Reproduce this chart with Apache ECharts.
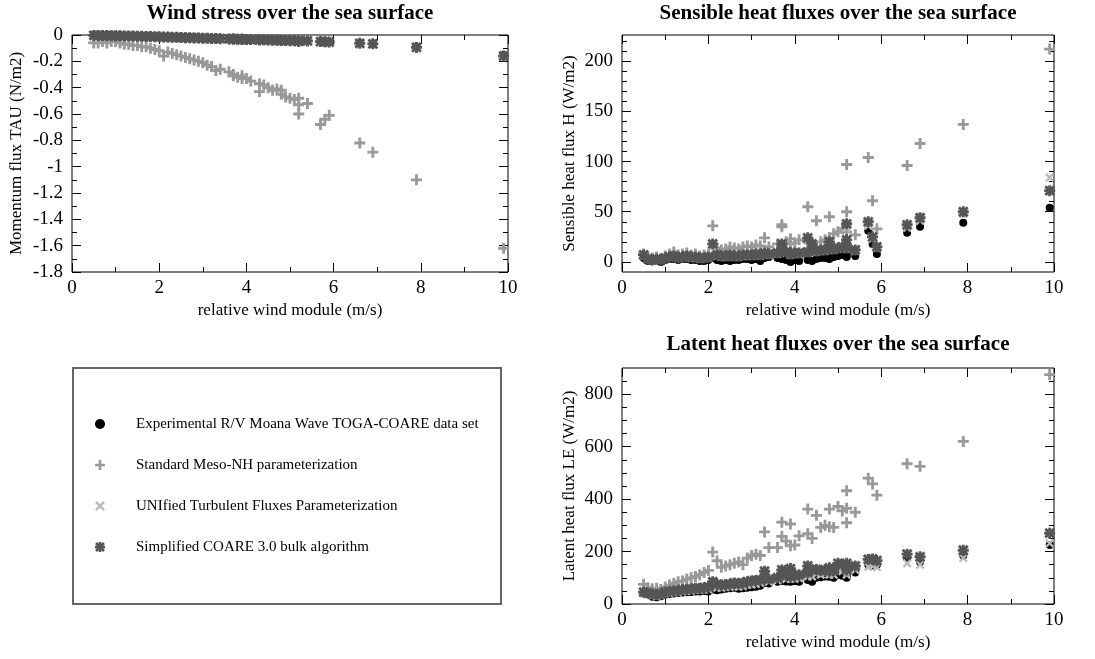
<!DOCTYPE html>
<html><head><meta charset="utf-8">
<script src="https://cdn.jsdelivr.net/npm/echarts@6/dist/echarts.min.js"></script>
<style>html,body{margin:0;padding:0;background:#fff}#c{width:1095px;height:659px}</style>
</head><body><div id="c"></div>
<script>
// ---- data ----
const wind = [0.5,0.6,0.7,0.8,0.9, 1.0,1.1,1.2,1.3,1.4, 1.5,1.6,1.7,1.8,1.9, 2.0,2.1,2.2,2.3,2.4, 2.5,2.6,2.7,2.8,2.9, 3.0,3.1,3.2,3.3,3.4, 3.6,3.7,3.7,3.8,3.9, 3.9,4.0,4.1,4.3,4.3, 4.4,4.5,4.6,4.7,4.8, 4.8,4.9,5.0,5.1,5.2, 5.2,5.2,5.4,5.7,5.8, 5.9,6.6,6.9,7.9,9.9];

const seriesNames = ["Experimental R/V Moana Wave TOGA-COARE data set","Standard Meso-NH parameterization","UNIfied Turbulent Fluxes Parameterization","Simplified COARE 3.0 bulk algorithm"];
const panelTitles = ["Wind stress over the sea surface","Sensible heat fluxes over the sea surface","Latent heat fluxes over the sea surface"];
const xName = "relative wind module (m/s)";
const yNames = ["Momentum flux TAU (N/m2)","Sensible heat flux H (W/m2)","Latent heat flux LE (W/m2)"];

const xTicks = [0,2,4,6,8,10];
const xMinor = [1,3,5,7,9];
const tauTicks = [0,-0.2,-0.4,-0.6,-0.8,-1,-1.2,-1.4,-1.6,-1.8];
const tauMinor = [-0.1,-0.3,-0.5,-0.7,-0.9,-1.1,-1.3,-1.5,-1.7];
const hTicks = [0,50,100,150,200];
const hMinor = [10,20,30,40,60,70,80,90,110,120,130,140,160,170,180,190,210,220];
const leTicks = [0,200,400,600,800];
const leMinor = [50,100,150,250,300,350,450,500,550,650,700,750,850];

const tauExp = [-0.002,-0.003,-0.003,-0.003,-0.004, -0.004,-0.005,-0.006,-0.007,-0.007, -0.008,-0.009,-0.010,-0.011,-0.012, -0.013,-0.015,-0.015,-0.016,-0.017, -0.018,-0.019,-0.020,-0.021,-0.022, -0.023,-0.024,-0.025,-0.026,-0.027, -0.029,-0.030,-0.030,-0.031,-0.032, -0.032,-0.033,-0.034,-0.035,-0.036, -0.036,-0.037,-0.038,-0.039,-0.040, -0.040,-0.041,-0.042,-0.043,-0.044, -0.045,-0.046,-0.044,-0.048,-0.050, -0.051,-0.060,-0.064,-0.090,-0.152];
const tauMeso = [-0.06,-0.06,-0.05,-0.06,-0.05, -0.05,-0.06,-0.07,-0.07,-0.08, -0.08,-0.09,-0.09,-0.10,-0.11, -0.12,-0.16,-0.13,-0.14,-0.15, -0.16,-0.17,-0.18,-0.19,-0.20, -0.21,-0.23,-0.24,-0.27,-0.26, -0.28,-0.31,-0.30,-0.32,-0.31, -0.33,-0.33,-0.35,-0.37,-0.43, -0.38,-0.40,-0.42,-0.41,-0.42, -0.45,-0.47,-0.48,-0.49,-0.48, -0.53,-0.60,-0.52,-0.68,-0.64, -0.61,-0.82,-0.89,-1.10,-1.62];
const tauUnif = [-0.003,-0.003,-0.003,-0.004,-0.004, -0.005,-0.005,-0.006,-0.007,-0.008, -0.008,-0.009,-0.010,-0.011,-0.012, -0.013,-0.015,-0.016,-0.016,-0.017, -0.018,-0.019,-0.020,-0.021,-0.022, -0.023,-0.024,-0.025,-0.027,-0.027, -0.029,-0.030,-0.031,-0.031,-0.032, -0.033,-0.033,-0.034,-0.036,-0.036, -0.037,-0.037,-0.038,-0.039,-0.040, -0.041,-0.041,-0.042,-0.043,-0.044, -0.045,-0.046,-0.044,-0.049,-0.051, -0.052,-0.062,-0.066,-0.092,-0.158];
const tauCoare = [-0.003,-0.003,-0.004,-0.004,-0.005, -0.005,-0.006,-0.007,-0.008,-0.008, -0.009,-0.010,-0.011,-0.012,-0.013, -0.014,-0.016,-0.016,-0.017,-0.018, -0.019,-0.020,-0.021,-0.022,-0.023, -0.024,-0.025,-0.026,-0.027,-0.028, -0.030,-0.031,-0.031,-0.032,-0.033, -0.033,-0.034,-0.035,-0.036,-0.037, -0.037,-0.038,-0.039,-0.040,-0.041, -0.041,-0.042,-0.043,-0.044,-0.045, -0.046,-0.047,-0.045,-0.050,-0.052, -0.053,-0.063,-0.067,-0.094,-0.160];

const hExp = [4,1,1,2,0, 2,3,3,2,3, 3,2,2,1,1, 2,4,2,1,2, 1,2,2,3,3, 2,3,1,4,5, 4,3,4,2,0, 1,2,1,3,2, 1,3,4,4,3, 4,5,6,7,6, 8,5,6,31,18, 8,29,35,39,54];
const hMeso = [8,5,4,5,3, 6,8,10,7,8, 9,7,8,6,7, 8,36,14,12,13, 15,14,13,15,16, 15,17,16,24,15, 18,37,35,20,23, 18,19,22,55,20, 19,41,20,22,45, 24,28,30,33,97, 50,30,27,104,61, 33,96,118,137,212];
const hUnif = [6,3,2,3,2, 4,5,5,4,5, 5,4,4,3,4, 4,15,6,5,5, 6,5,5,6,6, 6,7,6,8,7, 8,16,11,9,8, 7,8,8,21,9, 16,10,11,11,18, 12,12,13,14,34, 20,13,11,36,23, 14,34,41,48,84];
const hCoare = [7,3,2,3,2, 4,5,6,4,5, 6,5,5,4,4, 5,18,7,6,6, 7,6,6,7,7, 7,8,7,9,8, 9,18,12,10,9, 8,9,9,24,10, 18,11,12,12,20, 13,13,14,15,38, 22,14,12,40,25, 15,37,44,50,71];

const leExp = [42,38,28,26,30, 35,38,40,42,44, 45,46,48,48,50, 48,55,52,55,58, 60,62,58,60,62, 64,66,70,80,78, 85,92,88,86,85, 90,88,85,100,92, 85,100,102,105,110, 104,100,112,108,105, 115,100,120,150,148, 150,175,160,185,225];
const leMeso = [75,62,58,60,55, 65,72,78,85,88, 95,100,105,112,120, 128,198,165,140,145, 150,155,160,150,175, 185,190,185,275,215, 215,312,258,240,305, 222,225,260,362,268, 250,338,292,300,362, 295,292,372,355,432, 365,310,350,480,458, 415,535,525,620,875];
const leUnif = [44,40,32,30,33, 40,42,44,46,48, 50,51,53,53,55, 55,68,62,62,65, 66,68,66,68,72, 74,76,80,100,85, 90,108,100,95,108, 96,96,98,120,105, 105,115,112,115,120, 112,112,130,125,128, 125,112,130,142,145, 140,155,150,175,232];
const leCoare = [45,42,38,36,38, 45,48,50,52,55, 56,58,60,60,62, 65,85,75,72,74, 76,80,78,80,85, 88,90,92,125,95, 100,130,115,110,135, 105,108,112,145,120, 130,132,128,130,138, 125,128,155,150,155, 140,130,145,170,172, 165,190,180,205,270];

// ---- styling ----
const SERIF = "'Liberation Serif','DejaVu Serif',serif";
const PLUS = 'path://M3.7,0h2.6v3.7h3.7v2.6h-3.7v3.7h-2.6v-3.7h-3.7v-2.6h3.7z';
const CROSS = 'path://M1.92,0.08L9.92,8.08L8.08,9.92L0.08,1.92Z M8.08,0.08L9.92,1.92L1.92,9.92L0.08,8.08Z';
const STAR = 'path://M3.7,0h2.6v3.7h3.7v2.6h-3.7v3.7h-2.6v-3.7h-3.7v-2.6h3.7z M1.92,0.08L9.92,8.08L8.08,9.92L0.08,1.92Z M8.08,0.08L9.92,1.92L1.92,9.92L0.08,8.08Z';
const markers = [
  {symbol:'circle', size:8, color:'#000000'},
  {symbol:PLUS, size:11, color:'#999999'},
  {symbol:CROSS, size:9, color:'#bbbbbb'},
  {symbol:STAR, size:11, color:'#555555'}
];

const grids = [
  {left:72, top:35, width:436, height:237},
  {left:622, top:35, width:432, height:237},
  {left:622, top:368, width:432, height:236}
];
grids.forEach(g => { g.show = true; g.borderColor = '#000'; g.borderWidth = 1; g.backgroundColor = 'transparent'; g.containLabel = false; });

function axisSet(kind, gi, min, max, majors, minors, fmt, name, nameGap) {
  const pos = kind === 'x' ? ['bottom','top'] : ['left','right'];
  const base = () => ({type:'value', gridIndex:gi, min:min, max:max, axisLine:{show:false, onZero:false}, splitLine:{show:false}, minorTick:{show:false}});
  const tick = (vals, len) => ({show:true, inside:true, customValues:vals, length:len, lineStyle:{color:'#000', width:1}});
  const main = Object.assign(base(), {
    position: pos[0],
    name: name, nameLocation:'middle', nameGap: nameGap,
    nameTextStyle: {fontFamily:SERIF, fontSize:17, color:'#000'},
    axisLabel: {show:true, customValues:majors, formatter:fmt, fontFamily:SERIF, fontSize:19, color:'#000', margin: kind==='x'?7:9},
    axisTick: tick(majors, 9)
  });
  const a2 = Object.assign(base(), {position:pos[0], axisLabel:{show:false}, axisTick:tick(minors, 5)});
  const a3 = Object.assign(base(), {position:pos[1], axisLabel:{show:false}, axisTick:tick(majors, 9)});
  const a4 = Object.assign(base(), {position:pos[1], axisLabel:{show:false}, axisTick:tick(minors, 5)});
  return [main, a2, a3, a4];
}
const fmtNum = v => String(Math.round(v*10)/10);

const xAxes = [].concat(
  axisSet('x', 0, 0, 10, xTicks, xMinor, fmtNum, xName, 30),
  axisSet('x', 1, 0, 10, xTicks, xMinor, fmtNum, xName, 30),
  axisSet('x', 2, 0, 10, xTicks, xMinor, fmtNum, xName, 30)
);
const yAxes = [].concat(
  axisSet('y', 0, -1.8, 0, tauTicks, tauMinor, fmtNum, yNames[0], 47),
  axisSet('y', 1, -10, 226, hTicks, hMinor, fmtNum, yNames[1], 44),
  axisSet('y', 2, 0, 900, leTicks, leMinor, fmtNum, yNames[2], 44)
);

const panelData = [
  [tauExp, tauMeso, tauUnif, tauCoare],
  [hExp, hMeso, hUnif, hCoare],
  [leExp, leMeso, leUnif, leCoare]
];
const series = [];
panelData.forEach((sets, gi) => {
  sets.forEach((vals, k) => {
    const m = markers[k];
    series.push({
      type:'scatter', name: seriesNames[k],
      xAxisIndex: gi*4, yAxisIndex: gi*4,
      data: wind.map((w, i) => [w, vals[i]]),
      symbol: m.symbol, symbolSize: m.size,
      itemStyle: {color: m.color, opacity: 1},
      emphasis: {disabled: true},
      z: 2 + k
    });
  });
});

const titleX = [290, 838, 838];
const titleY = [3, 3, 334];
const titles = panelTitles.map((t, i) => ({
  text: t, left: titleX[i], top: titleY[i], textAlign:'center', padding:0,
  textStyle: {fontFamily:SERIF, fontSize:21, fontWeight:'bold', color:'#000'}
}));

const chart = echarts.init(document.getElementById('c'), null, {renderer:'canvas'});
chart.setOption({
  animation:false,
  backgroundColor:'#fff',
  title: titles,
  grid: grids,
  xAxis: xAxes,
  yAxis: yAxes,
  legend: {
    data: seriesNames, orient:'vertical', left:90, top:411,
    itemWidth:10, itemHeight:10, itemGap:25, selectedMode:false,
    textStyle: {fontFamily:SERIF, fontSize:15, color:'#000', lineHeight:16, padding:[0,0,0,26]}
  },
  graphic: [{type:'rect', shape:{x:73, y:368, width:428, height:236}, style:{fill:'none', stroke:'#666', lineWidth:2}, silent:true}],
  series: series
});
</script>
</body></html>
